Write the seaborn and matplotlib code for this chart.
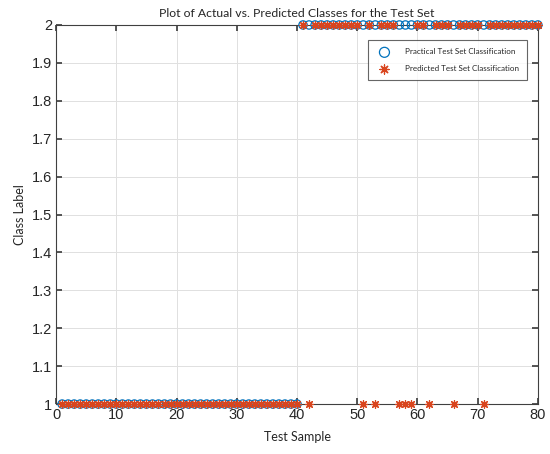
import matplotlib
matplotlib.use("Agg")
import matplotlib.pyplot as plt
import seaborn as sns
import pandas as pd

# data
sample = list(range(1, 81))
actual = [1, 1, 1, 1, 1, 1, 1, 1, 1, 1, 1, 1, 1, 1, 1, 1, 1, 1, 1, 1,
          1, 1, 1, 1, 1, 1, 1, 1, 1, 1, 1, 1, 1, 1, 1, 1, 1, 1, 1, 1,
          2, 2, 2, 2, 2, 2, 2, 2, 2, 2, 2, 2, 2, 2, 2, 2, 2, 2, 2, 2,
          2, 2, 2, 2, 2, 2, 2, 2, 2, 2, 2, 2, 2, 2, 2, 2, 2, 2, 2, 2]
predicted = [1, 1, 1, 1, 1, 1, 1, 1, 1, 1, 1, 1, 1, 1, 1, 1, 1, 1, 1, 1,
             1, 1, 1, 1, 1, 1, 1, 1, 1, 1, 1, 1, 1, 1, 1, 1, 1, 1, 1, 1,
             2, 1, 2, 2, 2, 2, 2, 2, 2, 2, 1, 2, 1, 2, 2, 2, 1, 1, 1, 2,
             2, 1, 2, 2, 2, 1, 2, 2, 2, 2, 1, 2, 2, 2, 2, 2, 2, 2, 2, 2]
xticks = [0, 10, 20, 30, 40, 50, 60, 70, 80]
yticks = [1, 1.1, 1.2, 1.3, 1.4, 1.5, 1.6, 1.7, 1.8, 1.9, 2]
ytick_labels = ["1", "1.1", "1.2", "1.3", "1.4", "1.5", "1.6", "1.7", "1.8", "1.9", "2"]

df = pd.DataFrame({"Sample": sample, "Actual": actual, "Predicted": predicted})

sns.set_theme(style="white")
plt.rcParams["font.family"] = ["Lato", "DejaVu Sans"]

fig = plt.figure(figsize=(5.5, 4.54), dpi=100)
ax = fig.add_axes([0.102, 0.110, 0.876, 0.835])

sns.scatterplot(data=df, x="Sample", y="Actual", ax=ax, marker="o", s=36,
                facecolor="none", edgecolor="#0072bd", linewidth=0.9,
                label="Practical Test Set Classification", zorder=3, clip_on=False)
sns.scatterplot(data=df, x="Sample", y="Predicted", ax=ax, marker=(8, 2, 0), s=30,
                color="#d9451e", edgecolor="#d9451e", linewidth=0.9,
                label="Predicted Test Set Classification", zorder=4, clip_on=False)

ax.set_xlim(0, 80)
ax.set_ylim(1, 2)
ax.set_xticks(xticks)
ax.set_xticklabels([str(t) for t in xticks], family=["Liberation Sans"], fontsize=10.5)
ax.set_yticks(yticks)
ax.set_yticklabels(ytick_labels, family=["Liberation Sans"], fontsize=10.5)
ax.grid(True, color="#e0e0e0", linewidth=0.7)
ax.tick_params(direction="in", length=4, color="#404040", labelcolor="#262626",
               top=True, right=True, bottom=True, left=True, pad=3)
for s in ax.spines.values():
    s.set_color("#404040")
    s.set_linewidth(0.8)

ax.set_title("Plot of Actual vs. Predicted Classes for the Test Set", fontsize=8.8, pad=6)
ax.set_xlabel("Test Sample", fontsize=9, labelpad=6)
ax.set_ylabel("Class Label", fontsize=9, labelpad=4)

leg = ax.legend(loc="upper right", bbox_to_anchor=(0.985, 0.97), fontsize=5.8,
                frameon=True, fancybox=False, edgecolor="#404040",
                borderpad=1.0, labelspacing=1.2, handletextpad=1.5, markerscale=1.2)
leg.get_frame().set_linewidth(0.8)

fig.savefig("out.png", dpi=100)
